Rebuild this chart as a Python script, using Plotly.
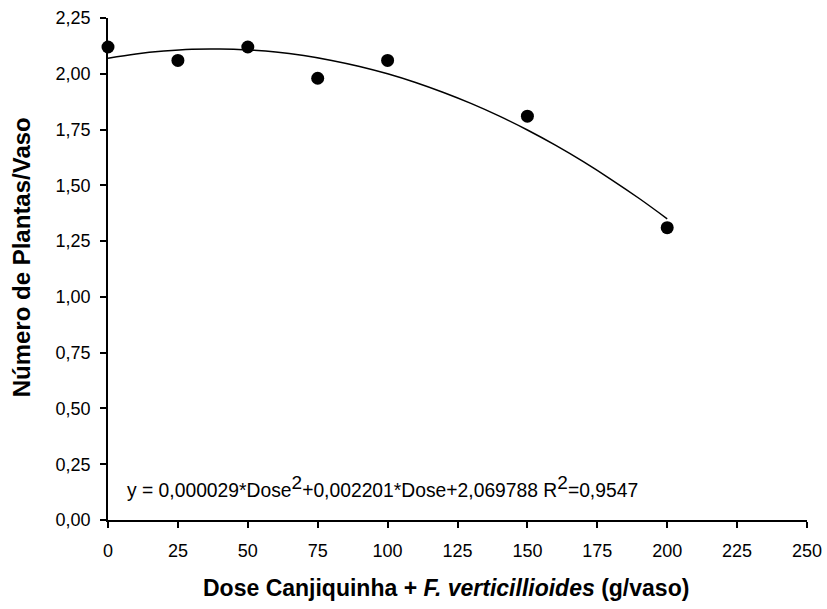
import plotly.graph_objects as go

dose = [0, 25, 50, 75, 100, 150, 200]
plantas = [2.12, 2.06, 2.12, 1.98, 2.06, 1.81, 1.31]

curve_x = [0, 10, 20, 30, 40, 50, 60, 70, 80, 90, 100, 110, 120, 130, 140, 150, 160, 170, 180, 190, 200]
curve_y = [2.070, 2.089, 2.102, 2.110, 2.111, 2.107, 2.098, 2.082, 2.060, 2.033, 2.000,
           1.961, 1.916, 1.866, 1.810, 1.748, 1.680, 1.606, 1.526, 1.441, 1.350]

x_ticks = [0, 25, 50, 75, 100, 125, 150, 175, 200, 225, 250]
y_ticks = [0, 0.25, 0.5, 0.75, 1.0, 1.25, 1.5, 1.75, 2.0, 2.25]

sup2 = '<sup><span style="font-size:19px">2</span></sup>'
equation = "y = 0,000029*Dose" + sup2 + "+0,002201*Dose+2,069788 R" + sup2 + "=0,9547"
x_title = "<b>Dose Canjiquinha + <i>F. verticillioides</i> (g/vaso)</b>"
y_title = "<b>Número de Plantas/Vaso</b>"

FONT = "Liberation Sans, Arial"

fig = go.Figure()
fig.add_trace(go.Scatter(x=curve_x, y=curve_y, mode="lines", line=dict(color="black", width=1.5, shape="spline"),
                         showlegend=False, hoverinfo="skip", cliponaxis=False))
fig.add_trace(go.Scatter(x=dose, y=plantas, mode="markers", marker=dict(color="black", size=13),
                         showlegend=False, cliponaxis=False))

fig.add_annotation(x=0.024, y=0.034, xref="paper", yref="paper", text=equation, showarrow=False,
                   xanchor="left", yanchor="bottom", font=dict(family=FONT, size=19.3, color="black"))
fig.add_annotation(x=0.4835, y=-0.1355, xref="paper", yref="paper", text=x_title, showarrow=False,
                   xanchor="center", yanchor="middle", font=dict(family=FONT, size=23, color="black"))
fig.add_annotation(x=-0.1225, y=0.524, xref="paper", yref="paper", text=y_title, showarrow=False,
                   textangle=-90, xanchor="center", yanchor="middle", font=dict(family=FONT, size=24, color="black"))

axis_common = dict(showline=True, linecolor="black", linewidth=1.5, ticks="outside", ticklen=6, tickwidth=1.5,
                   tickcolor="black", showgrid=False, zeroline=False, mirror=False, automargin=False,
                   tickfont=dict(family=FONT, size=18, color="black"))

fig.update_layout(
    width=827, height=609,
    margin=dict(l=108, r=20, t=18, b=89),
    paper_bgcolor="white", plot_bgcolor="white",
    separators=",.",
    xaxis=dict(range=[0, 250], tickvals=x_ticks, ticklabelstandoff=8, **axis_common),
    yaxis=dict(range=[0, 2.25], tickvals=y_ticks, tickformat=".2f", ticklabelstandoff=6, **axis_common),
)

fig.write_html("out.html")
